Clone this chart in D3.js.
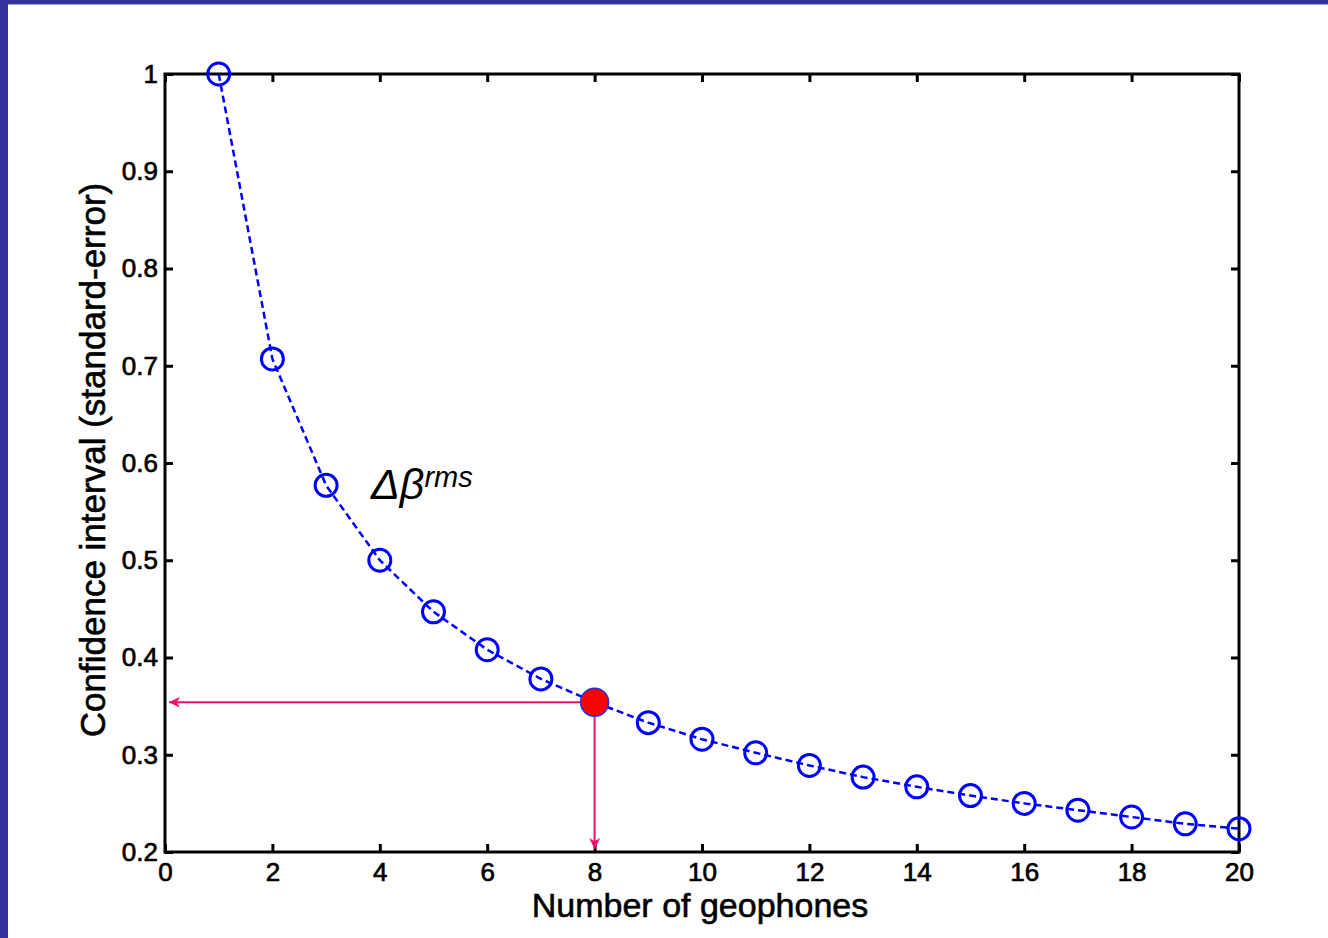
<!doctype html>
<html>
<head>
<meta charset="utf-8">
<style>
body { margin: 0; background: white; font-family: Arial, "Liberation Sans", sans-serif; }
#chart { width: 1328px; height: 938px; }
</style>
<script src="https://cdnjs.cloudflare.com/ajax/libs/d3/7.8.5/d3.min.js"></script>
</head>
<body>
<div id="chart"></div>
<script>
// geophone counts and the standard-error
var geophones = [1, 2, 3, 4, 5, 6, 7, 8, 9, 10, 11, 12, 13, 14, 15, 16, 17, 18, 19, 20];
var confidence = [1.0, 0.707, 0.577, 0.5, 0.447, 0.408, 0.378, 0.354, 0.333, 0.316,
                  0.302, 0.289, 0.277, 0.267, 0.258, 0.25, 0.243, 0.236, 0.229, 0.224];
var xTicks = [0, 2, 4, 6, 8, 10, 12, 14, 16, 18, 20];
var yTicks = [0.2, 0.3, 0.4, 0.5, 0.6, 0.7, 0.8, 0.9, 1];
var chosen = 8;   // highlighted point

var width = 1328, height = 938;
var mLeft = 165, mRight = 1239, mTop = 74, mBottom = 852;

var svg = d3.select("#chart").append("svg")
    .attr("width", width).attr("height", height);

// slide frame
svg.append("rect").attr("x", 0).attr("y", 0).attr("width", width).attr("height", 4).attr("fill", "#333399");
svg.append("rect").attr("x", 0).attr("y", 4).attr("width", width).attr("height", 1).attr("fill", "#a8a8d8");
svg.append("rect").attr("x", 0).attr("y", 0).attr("width", 8).attr("height", height).attr("fill", "#333399");

var x = d3.scaleLinear().domain([0, 20]).range([mLeft, mRight]);
var y = d3.scaleLinear().domain([0.2, 1]).range([mBottom, mTop]);

var defs = svg.append("defs");
defs.append("marker").attr("id", "arrow")
    .attr("viewBox", "0 0 10 10").attr("refX", 10).attr("refY", 5)
    .attr("markerWidth", 11).attr("markerHeight", 11)
    .attr("markerUnits", "userSpaceOnUse")
    .attr("orient", "auto")
  .append("path").attr("d", "M0,0 L10,5 L0,10 L3,5 Z").attr("fill", "#f0106a");

// axes with inward ticks on all four sides
var tickLen = 8;
svg.append("g").attr("transform", "translate(0," + mBottom + ")")
    .call(d3.axisBottom(x).tickValues(xTicks).tickSize(-tickLen).tickPadding(11))
    .call(styleAxis);
svg.append("g").attr("transform", "translate(0," + mTop + ")")
    .call(d3.axisTop(x).tickValues(xTicks).tickSize(-tickLen).tickFormat(""))
    .call(styleAxis);
svg.append("g").attr("transform", "translate(" + mLeft + ",0)")
    .call(d3.axisLeft(y).tickValues(yTicks).tickSize(-tickLen).tickPadding(7).tickFormat(d3.format("")))
    .call(styleAxis);
svg.append("g").attr("transform", "translate(" + mRight + ",0)")
    .call(d3.axisRight(y).tickValues(yTicks).tickSize(-tickLen).tickFormat(""))
    .call(styleAxis);

function styleAxis(g) {
  g.select(".domain").remove();
  g.selectAll(".tick line").attr("stroke", "black").attr("stroke-width", 3);
  g.selectAll("text").attr("fill", "black").attr("font-size", 26)
    .attr("font-family", "Arial, 'Liberation Sans', sans-serif")
    .attr("stroke", "black").attr("stroke-width", 0.7);
}

svg.append("rect").attr("x", mLeft).attr("y", mTop)
    .attr("width", mRight - mLeft).attr("height", mBottom - mTop)
    .attr("fill", "none").attr("stroke", "black").attr("stroke-width", 3);

// axis titles
svg.append("text").attr("x", 700).attr("y", 917)
    .attr("text-anchor", "middle").attr("font-size", 34).attr("fill", "black")
    .attr("stroke", "black").attr("stroke-width", 0.6)
    .text("Number of geophones");
svg.append("text").attr("transform", "translate(105,460) rotate(-90)")
    .attr("text-anchor", "middle").attr("font-size", 35).attr("fill", "black")
    .attr("stroke", "black").attr("stroke-width", 0.6)
    .text("Confidence interval (standard-error)");

var pts = geophones.map(function (g, i) { return [g, confidence[i]]; });

svg.append("path").datum(pts)
    .attr("d", d3.line().x(function (d) { return x(d[0]); }).y(function (d) { return y(d[1]); }))
    .attr("fill", "none").attr("stroke", "#0000ff").attr("stroke-width", 2.5)
    .attr("stroke-dasharray", "7,4");

svg.selectAll(".pt").data(pts.filter(function (d) { return d[0] !== chosen; }))
  .enter().append("circle").attr("class", "pt")
    .attr("cx", function (d) { return x(d[0]); })
    .attr("cy", function (d) { return y(d[1]); })
    .attr("r", 11).attr("fill", "none").attr("stroke", "#0000ff").attr("stroke-width", 3);

var sel = pts[geophones.indexOf(chosen)];

// pink guide arrows
svg.append("line").attr("x1", x(sel[0])).attr("y1", y(sel[1]))
    .attr("x2", x(0) + 4).attr("y2", y(sel[1]))
    .attr("stroke", "#f0106a").attr("stroke-width", 2).attr("marker-end", "url(#arrow)");
svg.append("line").attr("x1", x(sel[0])).attr("y1", y(sel[1]))
    .attr("x2", x(sel[0])).attr("y2", mBottom - 3)
    .attr("stroke", "#f0106a").attr("stroke-width", 2).attr("marker-end", "url(#arrow)");

svg.append("circle").attr("cx", x(sel[0])).attr("cy", y(sel[1]))
    .attr("r", 14).attr("fill", "#ff0000").attr("stroke", "#2233dd").attr("stroke-width", 1.5);

// curve label
var lab = svg.append("text").attr("x", 371).attr("y", 499)
    .attr("font-style", "italic").attr("fill", "black").attr("font-size", 43);
lab.append("tspan").text("Δβ");
lab.append("tspan").attr("font-size", 29).attr("dy", -12).text("rms");
</script>
</body>
</html>
